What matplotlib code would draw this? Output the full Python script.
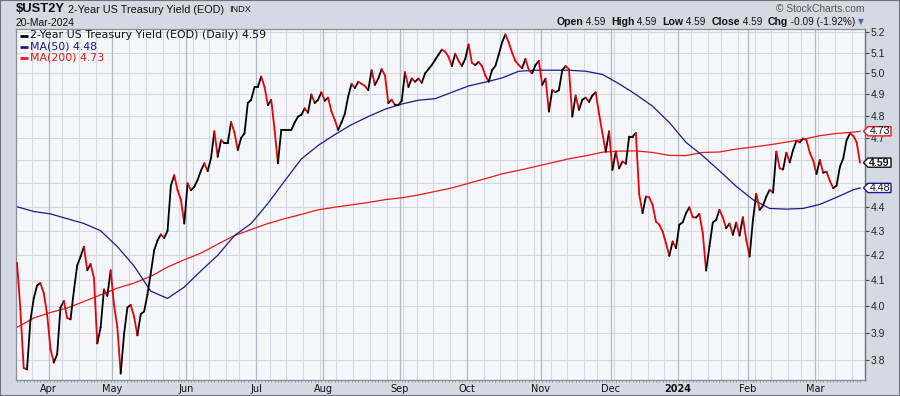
import numpy as np
import pandas as pd
import matplotlib
matplotlib.use("Agg")
import matplotlib.pyplot as plt
from matplotlib.collections import LineCollection
from matplotlib.lines import Line2D
from matplotlib.patches import Polygon, Rectangle
from matplotlib.ticker import FixedLocator, FixedFormatter, NullLocator

# ---------------- data ----------------
start_date = "2023-03-20"
end_date = "2024-03-20"
market_holidays = ["2023-04-07", "2023-05-29", "2023-06-19", "2023-07-04", "2023-09-04",
                   "2023-11-23", "2023-12-25", "2024-01-01", "2024-01-15", "2024-02-19"]

yield_close = [
    4.17, 3.99, 3.77, 3.765, 3.945, 4.03, 4.08, 4.09, 4.05, 3.97,
    3.84, 3.79, 3.82, 3.995, 4.02, 3.955, 3.95, 4.06, 4.16, 4.195,
    4.235, 4.14, 4.165, 4.11, 3.86, 3.92, 4.065, 4.04, 4.14, 4.005,
    3.92, 3.75, 3.895, 3.995, 4.005, 3.96, 3.89, 3.97, 3.98, 4.045,
    4.13, 4.22, 4.26, 4.285, 4.27, 4.30, 4.49, 4.535, 4.47, 4.43,
    4.33, 4.50, 4.47, 4.485, 4.515, 4.555, 4.587, 4.553, 4.61, 4.73,
    4.616, 4.69, 4.676, 4.676, 4.772, 4.725, 4.646, 4.70, 4.72, 4.86,
    4.875, 4.935, 4.935, 4.985, 4.935, 4.85, 4.875, 4.736, 4.587, 4.736,
    4.736, 4.736, 4.736, 4.77, 4.797, 4.805, 4.835, 4.815, 4.90, 4.86,
    4.875, 4.91, 4.87, 4.885, 4.82, 4.782, 4.736, 4.77, 4.81, 4.89,
    4.95, 4.93, 4.96, 4.95, 4.94, 4.92, 5.015, 4.945, 4.975, 5.02,
    4.99, 4.86, 4.875, 4.85, 4.85, 4.87, 5.005, 4.935, 4.975, 4.96,
    4.975, 4.955, 5.0, 5.02, 5.04, 5.065, 5.09, 5.115, 5.105, 5.08,
    5.035, 5.095, 5.06, 5.035, 5.07, 5.14, 5.05, 5.04, 5.055, 5.035,
    4.99, 4.96, 5.015, 5.035, 5.09, 5.15, 5.19, 5.15, 5.10, 5.06,
    5.04, 5.025, 5.07, 5.015, 5.00, 5.04, 5.06, 4.945, 4.975, 4.82,
    4.92, 4.91, 4.92, 5.015, 5.035, 5.02, 4.797, 4.895, 4.828, 4.875,
    4.885, 4.865, 4.895, 4.91, 4.81, 4.721, 4.639, 4.73, 4.558, 4.639,
    4.565, 4.595, 4.585, 4.706, 4.706, 4.722, 4.453, 4.373, 4.443, 4.44,
    4.408, 4.338, 4.325, 4.297, 4.249, 4.198, 4.256, 4.229, 4.325, 4.335,
    4.373, 4.398, 4.356, 4.355, 4.37, 4.29, 4.139, 4.236, 4.334, 4.345,
    4.387, 4.355, 4.311, 4.33, 4.283, 4.334, 4.28, 4.356, 4.263, 4.195,
    4.345, 4.455, 4.387, 4.405, 4.443, 4.472, 4.46, 4.639, 4.565, 4.56,
    4.634, 4.591, 4.646, 4.687, 4.68, 4.697, 4.69, 4.634, 4.60, 4.54,
    4.602, 4.546, 4.55, 4.51, 4.479, 4.49, 4.572, 4.609, 4.69, 4.72,
    4.71, 4.68, 4.59,
]

# moving averages read every 5th trading day (plus last day)
ma_day = [0, 5, 10, 15, 20, 25, 30, 35, 40, 45, 50, 55, 60, 65, 70, 75, 80, 85, 90, 95,
          100, 105, 110, 115, 120, 125, 130, 135, 140, 145, 150, 155, 160, 165, 170, 175,
          180, 185, 190, 195, 200, 205, 210, 215, 220, 225, 230, 235, 240, 245, 250, 252]
ma50 = [4.40, 4.38, 4.37, 4.35, 4.33, 4.30, 4.235, 4.157, 4.058, 4.03, 4.074, 4.138,
        4.20, 4.28, 4.33, 4.414, 4.51, 4.606, 4.666, 4.715, 4.76, 4.797, 4.831, 4.855,
        4.873, 4.88, 4.91, 4.94, 4.958, 4.978, 5.01, 5.015, 5.015, 5.015, 5.01, 4.995,
        4.95, 4.90, 4.845, 4.77, 4.68, 4.62, 4.554, 4.487, 4.43, 4.393, 4.39, 4.393,
        4.41, 4.44, 4.472, 4.48]
ma200 = [3.92, 3.955, 3.976, 3.993, 4.018, 4.044, 4.07, 4.09, 4.116, 4.153, 4.182, 4.209,
         4.245, 4.28, 4.305, 4.33, 4.35, 4.368, 4.387, 4.398, 4.408, 4.418, 4.43, 4.438,
         4.45, 4.465, 4.48, 4.50, 4.52, 4.541, 4.556, 4.573, 4.59, 4.607, 4.62, 4.636,
         4.641, 4.642, 4.635, 4.622, 4.621, 4.635, 4.637, 4.65, 4.659, 4.669, 4.681,
         4.694, 4.71, 4.72, 4.726, 4.73]

y_ticks = [3.8, 3.9, 4.0, 4.1, 4.2, 4.3, 4.4, 4.5, 4.6, 4.7, 4.8, 4.9, 5.0, 5.1, 5.2]
last_chg = -0.09
last_chg_pct = -1.92

# ---------------- setup ----------------
W, H = 900, 396
fig = plt.figure(figsize=(W / 100, H / 100), dpi=100)
fig.patch.set_facecolor("#d5d9e2")

def fx(x):
    return x / W

def fy(y):
    return 1 - y / H

L, R, T, B = 16, 865, 29, 380
ax = fig.add_axes([fx(L), fy(B), (R - L) / W, (B - T) / H])
ax.set_facecolor("#f5f6fa")

dates = pd.bdate_range(start_date, end_date, freq="C", holidays=market_holidays)
n = len(yield_close)
dates = dates[-n:]
idx = np.arange(n)
vals = np.array(yield_close)

ax.set_yscale("log")
ax.set_ylim(3.727, 5.217)
ax.set_xlim(-0.3, n - 1 + 1.5)

# gridlines
for t in y_ticks:
    ax.axhline(t, color="#d6d9e0", lw=0.8, zorder=0)
week_starts = [i for i in range(1, n) if dates[i].weekday() < dates[i - 1].weekday()]
month_starts = [i for i in range(1, n) if dates[i].month != dates[i - 1].month]
for i in week_starts:
    if i not in month_starts:
        ax.axvline(i - 0.5, color="#d6d9e0", lw=0.8, zorder=0)
for i in month_starts:
    ax.axvline(i - 0.5, color="#b4b8c2", lw=0.9, zorder=0)

# moving averages
ax.plot(ma_day, ma200, color="#e41a1c", lw=0.9, zorder=2)
ax.plot(ma_day, ma50, color="#1a1a8c", lw=0.9, zorder=2)

# price line coloured by direction
pts = np.column_stack([idx, vals])
segs = np.stack([pts[:-1], pts[1:]], axis=1)
cols = ["#000000" if vals[k + 1] >= vals[k] else "#e8000b" for k in range(n - 1)]
lc = LineCollection(segs, colors=cols, linewidths=1.3, zorder=3, capstyle="round",
                    joinstyle="round")
ax.add_collection(lc)

# axes styling
for s in ["left", "top", "bottom"]:
    ax.spines[s].set_color("#8a8f99")
    ax.spines[s].set_linewidth(0.9)
ax.spines["right"].set_color("#6b707a")
ax.spines["right"].set_linewidth(1.0)

# value boxes on the right hide the labels they sit on (4.5 and 4.6)
box_values = [ma200[-1], vals[-1], ma50[-1]]
def hidden(t):
    return any(abs(t - b) < 0.025 for b in box_values)

ax.yaxis.tick_right()
ax.yaxis.set_major_locator(FixedLocator(y_ticks))
ax.yaxis.set_major_formatter(FixedFormatter(["" if hidden(t) else f"{t:.1f}" for t in y_ticks]))
ax.yaxis.set_minor_locator(NullLocator())
ax.tick_params(axis="y", which="major", length=3, width=0.8, color="#444444", pad=1,
               labelsize=7.5, labelcolor="#222222", labelfontfamily="Liberation Sans")

month_pos = [i - 0.5 for i in month_starts]
month_lbl = [("2024" if dates[i].month == 1 else dates[i].strftime("%b")) for i in month_starts]
ax.set_xticks(month_pos)
ax.set_xticklabels(month_lbl)
ax.xaxis.set_minor_locator(FixedLocator(idx))
ax.tick_params(axis="x", which="major", length=0, pad=3, labelsize=7, labelcolor="#111111",
               labelfontfamily="DejaVu Sans")
ax.tick_params(axis="x", which="minor", length=1.5, width=0.6, color="#8a8f99")
for lab in ax.get_xticklabels():
    if lab.get_text() == "2024":
        lab.set_fontweight("bold")

# ---------------- header ----------------
fig.text(fx(16), fy(9.5), "$UST2Y", fontsize=9.4, fontweight="bold", family="Liberation Sans",
         va="center", ha="left", color="#111111")
fig.text(fx(68), fy(10), "2-Year US Treasury Yield (EOD)", fontsize=7.8,
         family="Liberation Sans", va="center", ha="left", color="#111111")
fig.text(fx(229), fy(10), "INDX", fontsize=6.6, family="Liberation Sans", va="center",
         ha="left", color="#111111")
fig.text(fx(16), fy(22.5), dates[-1].strftime("%d-%b-%Y"), fontsize=7.4,
         family="Liberation Sans", va="center", ha="left", color="#111111")
fig.text(fx(865), fy(9), "\u00a9 StockCharts.com", fontsize=7.4, family="Liberation Sans",
         va="center", ha="right", color="#555555")

last = vals[-1]
pieces = [("Open", True), (f" {last:.2f}  ", False), ("High", True), (f" {last:.2f}  ", False),
          ("Low", True), (f" {last:.2f}  ", False), ("Close", True), (f" {last:.2f}  ", False),
          ("Chg", True), (f" {last_chg:.2f} ({last_chg_pct:.2f}%)", False)]
fig.canvas.draw()
renderer = fig.canvas.get_renderer()
objs = []
for txt, bold in pieces:
    t = fig.text(0, fy(22), txt, fontsize=7.6 if bold else 7.2, family="Liberation Sans",
                 fontweight="bold" if bold else "normal", va="center", ha="left",
                 color="#111111")
    objs.append(t)
widths = [o.get_window_extent(renderer).width for o in objs]
xcur = 855 - sum(widths)
for o, w in zip(objs, widths):
    o.set_x(fx(xcur))
    xcur += w
fig.text(fx(858), fy(22), "\u25bc", fontsize=5.5, family="DejaVu Sans", va="center",
         ha="left", color="#4b6a9b")

# ---------------- legend ----------------
legend_rows = [
    (f"2-Year US Treasury Yield (EOD) (Daily) {last:.2f}", "#000000", 35.5),
    (f"MA(50) {ma50[-1]:.2f}", "#1a1a8c", 46.5),
    (f"MA(200) {ma200[-1]:.2f}", "#e41a1c", 57.5),
]
for txt, c, y in legend_rows:
    fig.lines.append(Line2D([fx(20), fx(28)], [fy(y), fy(y)], transform=fig.transFigure,
                            color=c, lw=2.0, solid_capstyle="butt"))
    fig.text(fx(29.5), fy(y), txt, fontsize=7.9, family="DejaVu Sans", va="center",
             ha="left", color=c if c != "#000000" else "#111111")

# ---------------- right-side value boxes ----------------
def value_box(v, ec, bold):
    ydisp = ax.transData.transform((0, v))[1]
    yc = H - ydisp
    h = 4.6
    poly = Polygon([[fx(863.5), fy(yc)], [fx(868), fy(yc - h)], [fx(891), fy(yc - h)],
                    [fx(891), fy(yc + h)], [fx(868), fy(yc + h)]], closed=True,
                   transform=fig.transFigure, facecolor="white", edgecolor=ec, lw=1.0,
                   zorder=5)
    fig.patches.append(poly)
    fig.text(fx(879.5), fy(yc), f"{v:.2f}", fontsize=7.6, family="Liberation Sans",
             fontweight="bold" if bold else "normal", va="center", ha="center",
             color="#111111", zorder=6)

value_box(ma200[-1], "#e41a1c", False)
value_box(last, "#111111", True)
value_box(ma50[-1], "#1a1a8c", False)

fig.patches.append(Rectangle((0, 0), 1, 1, transform=fig.transFigure, fill=False,
                             edgecolor="#6d727c", lw=1.5, zorder=10))

fig.savefig("out.png", dpi=100, facecolor=fig.get_facecolor())
